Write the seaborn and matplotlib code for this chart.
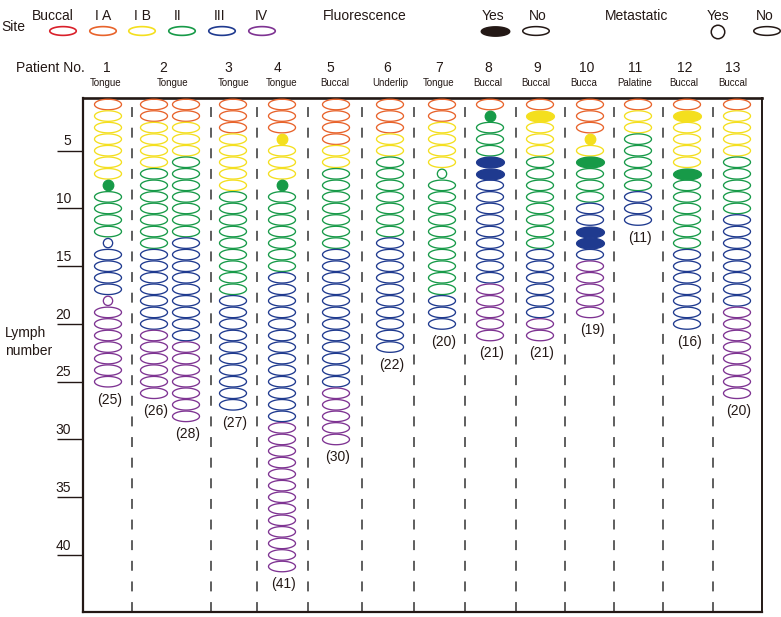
import numpy as np
import pandas as pd
import matplotlib
matplotlib.use("Agg")
import matplotlib.pyplot as plt
import seaborn as sns
from matplotlib.path import Path

# ---------------- data ----------------
site_names = ["Buccal", "I A", "I B", "II", "III", "IV"]
column_ids = ["1", "2a", "2b", "3", "4", "5", "6", "7", "8", "9", "10", "11", "12", "13"]
patient_numbers = ["1", "2", "3", "4", "5", "6", "7", "8", "9", "10", "11", "12", "13"]
patient_sites = ["Tongue", "Tongue", "Tongue", "Tongue", "Buccal", "Underlip", "Tongue",
                 "Buccal", "Buccal", "Bucca", "Palatine", "Buccal", "Buccal"]
count_labels = ["(25)", "(26)", "(28)", "(27)", "(41)", "(30)", "(22)", "(20)",
                "(21)", "(21)", "(19)", "(11)", "(16)", "(20)"]

# number of consecutive lymph nodes in each site level, top to bottom
runs_1 = [("I A", 1), ("I B", 6), ("II", 5), ("III", 5), ("IV", 8)]
runs_2a = [("I A", 2), ("I B", 4), ("II", 7), ("III", 7), ("IV", 6)]
runs_2b = [("I A", 2), ("I B", 3), ("II", 7), ("III", 9), ("IV", 7)]
runs_3 = [("I A", 3), ("I B", 5), ("II", 9), ("III", 10)]
runs_4 = [("I A", 3), ("I B", 4), ("II", 8), ("III", 13), ("IV", 13)]
runs_5 = [("I A", 4), ("I B", 2), ("II", 7), ("III", 12), ("IV", 5)]
runs_6 = [("I A", 3), ("I B", 2), ("II", 7), ("III", 10)]
runs_7 = [("I A", 2), ("I B", 4), ("II", 11), ("III", 3)]
runs_8 = [("I A", 1), ("II", 4), ("III", 11), ("IV", 5)]
runs_9 = [("I A", 1), ("I B", 4), ("II", 8), ("III", 6), ("IV", 2)]
runs_10 = [("I A", 3), ("I B", 2), ("II", 4), ("III", 5), ("IV", 5)]
runs_11 = [("I A", 1), ("I B", 2), ("II", 5), ("III", 3)]
runs_12 = [("I A", 1), ("I B", 5), ("II", 7), ("III", 7)]
runs_13 = [("I A", 1), ("I B", 4), ("II", 5), ("III", 8), ("IV", 8)]
column_runs = [runs_1, runs_2a, runs_2b, runs_3, runs_4, runs_5, runs_6, runs_7,
               runs_8, runs_9, runs_10, runs_11, runs_12, runs_13]

# (column, lymph number)
fluorescent_nodes = [("1", 8), ("4", 4), ("4", 8), ("8", 2), ("8", 6), ("8", 7), ("9", 2),
                     ("10", 4), ("10", 6), ("10", 12), ("10", 13), ("12", 2), ("12", 7)]
metastatic_nodes = [("1", 8), ("1", 13), ("1", 18), ("4", 4), ("4", 8), ("7", 7),
                    ("8", 2), ("10", 4)]
y_ticks = [5, 10, 15, 20, 25, 30, 35, 40]

# ---------------- layout / style ----------------
W, H = 781, 617
site_colors = {"Buccal": "#d9202a", "I A": "#e8632b", "I B": "#f4df1e",
               "II": "#179a48", "III": "#1f3a8f", "IV": "#7e3392"}
col_x = [108, 154, 186, 233, 282, 336, 390, 442, 490, 540, 590, 638, 687, 737]
sep_x = [132, 211, 257, 308, 362, 414, 465, 516, 565, 614, 663, 713]
patient_x = [107, 163, 228, 277, 330, 387, 439, 488, 537, 587, 635, 685, 733]
site_label_x = [106, 173, 234, 282, 335, 390, 439, 488, 536, 584, 635, 684, 733]
ax_left, ax_right, ax_top, ax_bottom = 83, 762, 98, 612
px_per_node, node1_px = 11.55, 104.5
ink = "#231815"

sns.set_theme(style="white")
plt.rcParams["font.family"] = ["Liberation Sans", "DejaVu Sans"]

# ---------------- build table ----------------
fl = set(fluorescent_nodes)
mt = set(metastatic_nodes)
rows = []
for cid, x, runs in zip(column_ids, col_x, column_runs):
    k = 1
    for site, n in runs:
        for _ in range(n):
            f = (cid, k) in fl
            m = (cid, k) in mt
            kind = ("dot" if (f and m) else "circle" if m else "filled" if f else "open")
            rows.append(dict(col=cid, x=x, lymph=k, site=site, kind=kind))
            k += 1
df = pd.DataFrame(rows)

fig = plt.figure(figsize=(W / 100, H / 100), dpi=100)
ax = fig.add_axes([ax_left / W, 1 - ax_bottom / H, (ax_right - ax_left) / W, (ax_bottom - ax_top) / H])
ylo = 1 + (ax_top - node1_px) / px_per_node
yhi = 1 + (ax_bottom - node1_px) / px_per_node

t = np.linspace(0, 2 * np.pi, 73)
ell = Path(np.column_stack([np.cos(t), 0.39 * np.sin(t)]), closed=True)
ell_s = (27 * 0.72) ** 2
lw = 0.95

for (site, kind), sub in df.groupby(["site", "kind"]):
    c = site_colors[site]
    if kind == "open":
        sns.scatterplot(data=sub, x="x", y="lymph", marker=ell, s=ell_s, facecolor="none",
                        edgecolor=c, linewidth=lw, ax=ax, legend=False, zorder=3)
    elif kind == "filled":
        sns.scatterplot(data=sub, x="x", y="lymph", marker=ell, s=ell_s * 1.06, facecolor=c,
                        edgecolor=c, linewidth=lw, ax=ax, legend=False, zorder=4)
    elif kind == "circle":
        sns.scatterplot(data=sub, x="x", y="lymph", marker="o", s=(9.3 * 0.72) ** 2, facecolor="none",
                        edgecolor=c, linewidth=lw, ax=ax, legend=False, zorder=4)
    else:
        sns.scatterplot(data=sub, x="x", y="lymph", marker="o", s=(10.5 * 0.72) ** 2, facecolor=c,
                        edgecolor=c, linewidth=lw, ax=ax, legend=False, zorder=4)

for sx in sep_x:
    ax.axvline(sx, color="#333333", lw=1.1, ls=(0, (6.5, 7.0)), zorder=1)

for cid, x, lab in zip(column_ids, col_x, count_labels):
    last = df.loc[df["col"] == cid, "lymph"].max()
    ax.text(x + 2, last + 1.55, lab, ha="center", va="center", fontsize=10, color=ink)

ax.set_xlim(ax_left, ax_right)
ax.set_ylim(yhi, ylo)
ax.set_xlabel("")
ax.set_ylabel("")
ax.set_xticks([])
ax.set_yticks(y_ticks)
ax.tick_params(axis="y", which="both", left=True, length=26 * 0.72, width=1.0,
               color=ink, labelleft=False, direction="out")
for tk in y_ticks:
    ax.text(71, tk - 0.2, str(tk), ha="right", va="bottom", fontsize=10, color=ink)
for side, w in [("top", 1.9), ("left", 1.6), ("bottom", 1.6), ("right", 1.4)]:
    ax.spines[side].set_visible(True)
    ax.spines[side].set_color(ink)
    ax.spines[side].set_linewidth(w)

# ---------------- header / legend (overlay in pixel coords) ----------------
lax = fig.add_axes([0, 0, 1, 1], zorder=5)
lax.set_xlim(0, W)
lax.set_ylim(H, 0)
lax.axis("off")


def txt(x, y, s, size=10, **kw):
    lax.text(x, y, s, ha=kw.pop("ha", "center"), va="center", fontsize=size, color=ink, **kw)


txt(13, 27, "Site")
leg_text_x = [53, 103, 142, 178, 220, 261]
leg_mark_x = [63, 103, 142, 182, 222, 262]
leg_ell = Path(np.column_stack([np.cos(t), 0.33 * np.sin(t)]), closed=True)
for name, tx, mx in zip(site_names, leg_text_x, leg_mark_x):
    txt(tx, 16, name)
    lax.scatter([mx], [31], marker=leg_ell, s=(26.5 * 0.72) ** 2, facecolor="none",
                edgecolor=site_colors[name], linewidth=1.2)

txt(365, 16, "Fluorescence")
txt(493, 16, "Yes")
lax.scatter([495], [31], marker=leg_ell, s=(28.5 * 0.72) ** 2, facecolor=ink, edgecolor=ink, linewidth=1.0)
txt(538, 16, "No")
lax.scatter([536], [31], marker=leg_ell, s=(26.5 * 0.72) ** 2, facecolor="none", edgecolor=ink, linewidth=1.1)
txt(637, 16, "Metastatic")
txt(718, 16, "Yes")
lax.scatter([718], [32], marker="o", s=(13.5 * 0.72) ** 2, facecolor="none", edgecolor=ink, linewidth=1.1)
txt(765, 16, "No")
lax.scatter([767], [31], marker=leg_ell, s=(26.5 * 0.72) ** 2, facecolor="none", edgecolor=ink, linewidth=1.1)

txt(50, 68, "Patient No.")
for num, x in zip(patient_numbers, patient_x):
    txt(x, 68, num)
for s, x in zip(patient_sites, site_label_x):
    txt(x, 83, s, size=7)

txt(5, 333, "Lymph", ha="left")
txt(5, 351, "number", ha="left")

fig.savefig("out.png", dpi=100)
